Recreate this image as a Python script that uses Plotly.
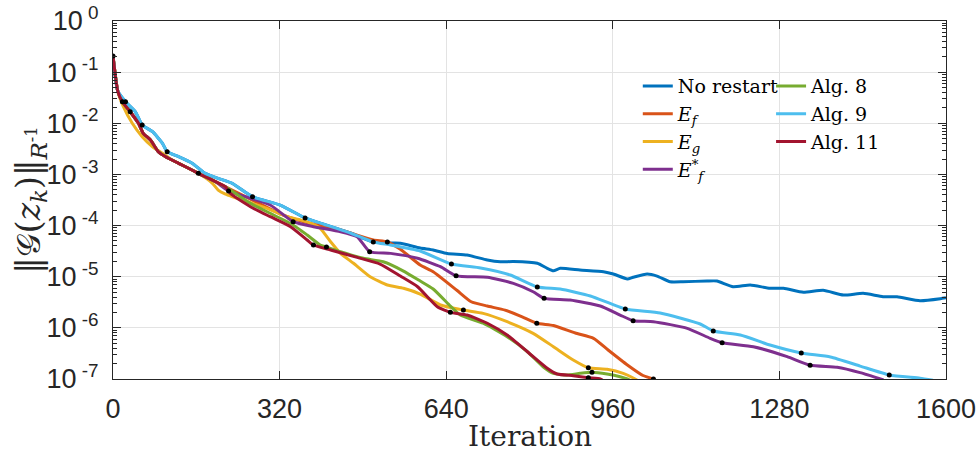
import plotly.graph_objects as go

# ---------------- data ----------------
bundle_it = [0, 9, 18, 33, 49, 58, 72, 87, 101, 126, 145, 164, 177, 197, 216]
bundle_val = [2.07e-1, 4.31e-2, 2.64e-2, 1.68e-2, 1.0e-2, 6.37e-3, 4.71e-3, 2.78e-3,
              2.22e-3, 1.65e-3, 1.32e-3, 1.05e-3, 9.02e-4, 7.21e-4, 5.75e-4]

# No restart
nr_it = [0, 9, 24, 43, 56, 76, 95, 104, 126, 152, 177, 202, 229, 268, 321, 369, 398, 456,
         500, 539, 552, 590, 615, 642, 680, 719, 744, 769, 815, 834, 846, 859, 897, 942, 961,
         988, 999, 1026, 1045, 1070, 1095, 1141, 1160, 1191, 1224, 1262, 1288, 1326, 1364,
         1403, 1441, 1479, 1506, 1550, 1589, 1600]
nr_val = [2.07e-1, 4.31e-2, 2.64e-2, 1.68e-2, 9.25e-3, 6.84e-3, 4.06e-3, 2.78e-3, 2.22e-3,
          1.65e-3, 1.05e-3, 8.39e-4, 6.70e-4, 3.66e-4, 2.52e-4, 1.41e-4, 1.12e-4, 7.16e-5,
          4.78e-5, 4.56e-5, 4.50e-5, 3.64e-5, 3.33e-5, 2.84e-5, 2.65e-5, 2.12e-5, 1.96e-5,
          1.98e-5, 1.83e-5, 1.46e-5, 1.31e-5, 1.46e-5, 1.35e-5, 1.25e-5, 1.13e-5, 9.02e-6,
          9.73e-6, 1.13e-5, 1.03e-5, 7.98e-6, 7.98e-6, 8.24e-6, 8.24e-6, 6.37e-6, 6.88e-6,
          5.93e-6, 5.93e-6, 4.95e-6, 5.42e-6, 4.39e-6, 4.73e-6, 4.06e-6, 4.06e-6, 3.40e-6,
          3.72e-6, 3.88e-6]

# E_f
ef_it = bundle_it + [264, 327, 383, 437, 500, 527, 552, 590, 615, 661, 688, 719, 753, 786,
                     814, 846, 888, 923, 951, 988, 1018, 1038, 1045]
ef_val = bundle_val + [3.3e-4, 1.6e-4, 1.07e-4, 8.18e-5, 5.23e-5, 4.78e-5, 3.44e-5, 1.69e-5,
                       1.25e-5, 5.37e-6, 3.24e-6, 2.67e-6, 2.22e-6, 1.64e-6, 1.23e-6, 1.11e-6,
                       7.92e-7, 6.24e-7, 3.69e-7, 1.88e-7, 1.17e-7, 1.0e-7, 9.0e-8]
ef_restarts = [527, 814, 1038]

# E_g
eg_it = [0, 9, 20, 37, 56, 76, 95, 114, 139, 164, 191, 202, 216, 258, 296, 335, 360, 379, 398,
         418, 437, 462, 494, 527, 558, 590, 629, 673, 711, 757, 807, 846, 884, 913, 949, 980,
         1003, 1010]
eg_val = [2.07e-1, 4.31e-2, 2.11e-2, 1.0e-2, 5.47e-3, 3.48e-3, 2.59e-3, 1.91e-3, 1.42e-3,
          1.05e-3, 6.70e-4, 4.95e-4, 4.14e-4, 2.92e-4, 2.17e-4, 1.49e-4, 1.29e-4, 1.11e-4,
          8.83e-5, 4.83e-5, 2.86e-5, 1.83e-5, 1.0e-5, 6.88e-6, 5.93e-6, 4.59e-6, 2.80e-6,
          2.23e-6, 1.92e-6, 1.32e-6, 7.82e-7, 4.28e-7, 2.35e-7, 1.66e-7, 1.55e-7, 1.29e-7,
          1.0e-7, 9.0e-8]
eg_restarts = [673, 913]

# E_f^*
efs_it = bundle_it[:-1] + [222, 264, 302, 346, 385, 437, 469, 493, 533, 585, 629, 659, 719,
                           769, 807, 828, 878, 936, 974, 999, 1038, 1103, 1147, 1170, 1230,
                           1295, 1339, 1391, 1435, 1480]
efs_val = bundle_val[:-1] + [4.74e-4, 3.41e-4, 2.52e-4, 1.19e-4, 9.50e-5, 7.59e-5, 6.05e-5,
                             3.08e-5, 2.86e-5, 2.29e-5, 1.57e-5, 1.04e-5, 9.73e-6, 7.43e-6,
                             5.09e-6, 3.78e-6, 3.50e-6, 2.67e-6, 1.78e-6, 1.38e-6, 1.32e-6,
                             9.79e-7, 6.25e-7, 5.13e-7, 4.28e-7, 2.73e-7, 1.85e-7, 1.69e-7,
                             1.33e-7, 9.6e-8]
efs_restarts = [222, 346, 493, 659, 828, 999, 1170, 1339]

# Alg. 8
a8_it = bundle_it + [264, 302, 346, 373, 398, 410, 437, 481, 519, 558, 590, 615, 648, 667,
                     711, 757, 796, 826, 846, 872, 897, 920, 949, 974, 988, 995]
a8_val = bundle_val + [2.72e-4, 1.74e-4, 1.03e-4, 6.53e-5, 4.17e-5, 3.81e-5, 3.08e-5, 2.29e-5,
                       1.96e-5, 1.29e-5, 8.24e-6, 5.75e-6, 2.67e-6, 1.78e-6, 1.23e-6, 6.71e-7,
                       3.41e-7, 1.74e-7, 1.29e-7, 1.20e-7, 1.29e-7, 1.35e-7, 1.25e-7, 1.11e-7,
                       1.0e-7, 9.2e-8]
a8_restarts = [410, 920]

# Alg. 9
a9_it = [0, 9, 24, 43, 56, 76, 95, 104, 126, 152, 177, 202, 229, 268, 321, 369, 398, 456, 500,
         533, 590, 650, 706, 763, 815, 859, 917, 984, 1051, 1128, 1153, 1205, 1262, 1322, 1378,
         1435, 1491, 1550, 1575]
a9_val = [2.07e-1, 4.31e-2, 2.64e-2, 1.68e-2, 9.25e-3, 6.84e-3, 4.06e-3, 2.78e-3, 2.22e-3,
          1.65e-3, 1.05e-3, 8.39e-4, 6.70e-4, 3.66e-4, 2.52e-4, 1.41e-4, 1.12e-4, 7.16e-5,
          4.78e-5, 4.17e-5, 3.18e-5, 1.77e-5, 1.48e-5, 1.08e-5, 6.30e-6, 5.75e-6, 4.20e-6,
          2.33e-6, 1.95e-6, 1.19e-6, 8.67e-7, 7.24e-7, 4.61e-7, 3.22e-7, 2.69e-7, 1.79e-7,
          1.20e-7, 1.04e-7, 9.5e-8]
a9_restarts = [24, 56, 104, 268, 369, 500, 650, 815, 984, 1153, 1322, 1491]

# Alg. 11
a11_it = bundle_it + [225, 264, 302, 341, 373, 385, 418, 469, 513, 552, 585, 623, 648, 680,
                      719, 757, 796, 834, 853, 884, 913, 936, 940]
a11_val = bundle_val + [4.28e-4, 2.34e-4, 1.49e-4, 9.50e-5, 5.23e-5, 4.17e-5, 3.33e-5,
                        2.39e-5, 1.77e-5, 1.03e-5, 6.37e-6, 2.59e-6, 2.01e-6, 1.78e-6,
                        1.23e-6, 7.24e-7, 3.41e-7, 1.62e-7, 1.25e-7, 1.16e-7, 1.06e-7,
                        1.0e-7, 9.5e-8]
a11_restarts = [0, 18, 33, 164, 385, 648, 913]

x_ticks = [0, 320, 640, 960, 1280, 1600]
y_ticks = [1e-7, 1e-6, 1e-5, 1e-4, 1e-3, 1e-2, 1e-1, 1e0]
y_ticktext = ["10<sup> -7</sup>", "10<sup> -6</sup>", "10<sup> -5</sup>", "10<sup> -4</sup>",
              "10<sup> -3</sup>", "10<sup> -2</sup>", "10<sup> -1</sup>", "10<sup> 0</sup>"]
y_minor = [m * 10.0 ** e for e in range(-7, 0) for m in range(2, 10)]

# ---------------- figure ----------------
series = [
    ("No restart", nr_it, nr_val, [], "#0072BD", "legend"),
    ("<i>E</i><sub><i>f</i></sub>", ef_it, ef_val, ef_restarts, "#D95319", "legend"),
    ("<i>E</i><sub><i>g</i></sub>", eg_it, eg_val, eg_restarts, "#EDB120", "legend"),
    ("<i>E</i><sup>*</sup><sub><i>f</i></sub>", efs_it, efs_val, efs_restarts, "#7E2F8E", "legend"),
    ("Alg. 8", a8_it, a8_val, a8_restarts, "#77AC30", "legend2"),
    ("Alg. 9", a9_it, a9_val, a9_restarts, "#4DBEEE", "legend2"),
    ("Alg. 11", a11_it, a11_val, a11_restarts, "#A2142F", "legend2"),
]

fig = go.Figure()
for name, it, val, rs, color, leg in series:
    fig.add_trace(go.Scatter(x=it, y=val, mode="lines", name=name, legend=leg,
                             line=dict(color=color, width=3, shape="spline", smoothing=0.5)))
for name, it, val, rs, color, leg in series:
    if rs:
        lookup = dict(zip(it, val))
        fig.add_trace(go.Scatter(x=rs, y=[lookup[k] for k in rs], mode="markers",
                                 marker=dict(color="black", size=5), showlegend=False,
                                 hoverinfo="skip"))

axis_color = "#262626"
grid_color = "#e3e3e3"
tick_font = dict(family="Liberation Sans, Arial, Helvetica, sans-serif", size=27, color=axis_color)

fig.update_xaxes(range=[0, 1600], tickvals=x_ticks, ticktext=[str(v) for v in x_ticks],
                 showgrid=True, gridcolor=grid_color, gridwidth=1, zeroline=False,
                 showline=True, linecolor=axis_color, linewidth=1, mirror="ticks",
                 ticks="inside", ticklen=8, tickcolor=axis_color, tickfont=tick_font,
                 ticklabelstandoff=6, automargin=False)
fig.update_yaxes(type="log", range=[-7, 0], tickvals=y_ticks, ticktext=y_ticktext,
                 showgrid=True, gridcolor=grid_color, gridwidth=1, zeroline=False,
                 showline=True, linecolor=axis_color, linewidth=1, mirror="ticks",
                 ticks="inside", ticklen=8, tickcolor=axis_color, tickfont=tick_font,
                 ticklabelstandoff=8, automargin=False,
                 minor=dict(tickvals=y_minor, ticks="inside", ticklen=4, tickcolor=axis_color,
                            showgrid=False))

legend_font = dict(family="DejaVu Serif, Liberation Serif, serif", size=19, color="black")
fig.update_layout(
    width=977, height=454,
    margin=dict(l=113, r=31, t=21, b=75, autoexpand=False),
    plot_bgcolor="white", paper_bgcolor="white",
    showlegend=True,
    legend=dict(x=0.630, y=0.871, xanchor="left", yanchor="top", bgcolor="rgba(0,0,0,0)",
                font=legend_font, itemwidth=30, tracegroupgap=0),
    legend2=dict(x=0.790, y=0.871, xanchor="left", yanchor="top", bgcolor="rgba(0,0,0,0)",
                 font=legend_font, itemwidth=30, tracegroupgap=0),
    annotations=[
        dict(text="Iteration", xref="paper", yref="paper", x=0.5, y=-0.160,
             xanchor="center", yanchor="middle", showarrow=False,
             font=dict(family="DejaVu Serif, Liberation Serif, serif", size=28, color=axis_color)),
        dict(text="‖𝒢(<i>z</i><sub><i>k</i></sub>)‖<sub><i>R</i><sup>-1</sup></sub>",
             xref="paper", yref="paper", x=-0.1, y=0.5, textangle=-90,
             xanchor="center", yanchor="middle", showarrow=False,
             font=dict(family="DejaVu Serif, Liberation Serif, serif", size=33, color=axis_color)),
    ],
)

fig.write_html("out.html")
